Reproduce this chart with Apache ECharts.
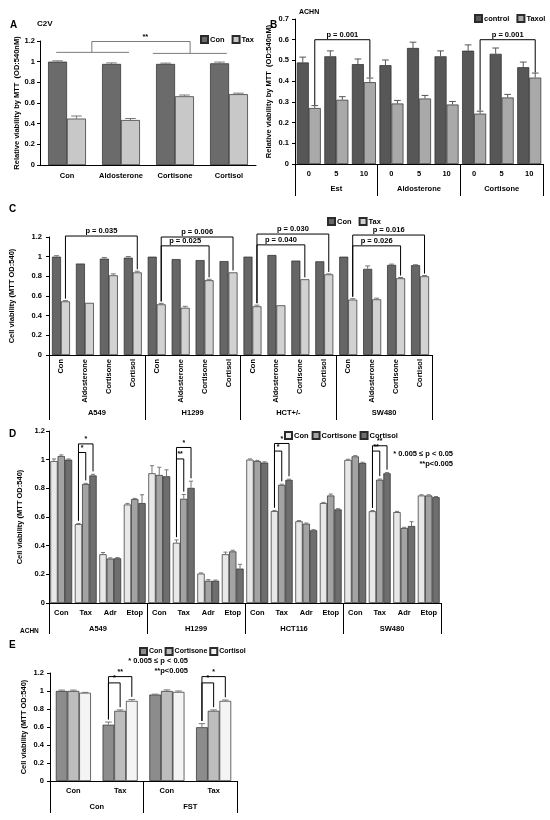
<!DOCTYPE html>
<html><head><meta charset="utf-8">
<script src="https://cdn.jsdelivr.net/npm/echarts@6/dist/echarts.min.js"></script>
<style>html,body{margin:0;padding:0;background:#fff}#c{width:550px;height:820px}</style>
</head><body><div id="c"></div>
<script>
// ---------- DATA ----------
// Panel A (C2V)
const catsA = ['Con', 'Aldosterone', 'Cortisone', 'Cortisol'];
const aCon = [1.0, 0.978, 0.978, 0.984];
const aTax = [0.449, 0.435, 0.665, 0.685];
const aConErr = [0.008, 0.01, 0.008, 0.012];
const aTaxErr = [0.025, 0.015, 0.012, 0.01];

// Panel B (ACHN)
const catsB = ['0', '5', '10', '0', '5', '10', '0', '5', '10'];
const groupsB = ['Est', 'Aldosterone', 'Cortisone'];
const bControl = [0.49, 0.52, 0.482, 0.477, 0.56, 0.52, 0.547, 0.532, 0.467];
const bTaxol = [0.27, 0.31, 0.395, 0.292, 0.316, 0.287, 0.243, 0.321, 0.417];
const bControlErr = [0.026, 0.026, 0.025, 0.025, 0.028, 0.026, 0.028, 0.028, 0.025];
const bTaxolErr = [0.012, 0.015, 0.02, 0.015, 0.015, 0.015, 0.012, 0.015, 0.022];
const sigB = [[0, 2, 0.6, 'p = 0.001'], [6, 8, 0.6, 'p = 0.001']];

// Panel C
const catsC = ['Con', 'Aldosterone', 'Cortisone', 'Cortisol', 'Con', 'Aldosterone', 'Cortisone', 'Cortisol',
               'Con', 'Aldosterone', 'Cortisone', 'Cortisol', 'Con', 'Aldosterone', 'Cortisone', 'Cortisol'];
const groupsC = ['A549', 'H1299', 'HCT+/-', 'SW480'];
const cCon = [1.0, 0.93, 0.98, 0.99, 1.0, 0.975, 0.965, 0.955, 1.0, 1.017, 0.96, 0.953, 1.0, 0.876, 0.916, 0.913];
const cTax = [0.545, 0.53, 0.81, 0.84, 0.515, 0.48, 0.76, 0.84, 0.495, 0.505, 0.77, 0.82, 0.563, 0.566, 0.78, 0.80];
const cConErr = [0.01, 0, 0.012, 0.012, 0, 0, 0, 0, 0, 0, 0, 0, 0, 0.03, 0.008, 0.005];
const cTaxErr = [0.008, 0, 0.015, 0.012, 0.01, 0.015, 0.01, 0, 0.012, 0, 0, 0.005, 0.01, 0.012, 0.008, 0.008];
const sigC = [[0, 3, 1.21, 'p = 0.035'], [4, 7, 1.2, 'p = 0.006'], [4, 6, 1.11, 'p = 0.025'],
              [8, 11, 1.23, 'p = 0.030'], [8, 10, 1.12, 'p = 0.040'], [12, 15, 1.22, 'p = 0.016'], [12, 14, 1.11, 'p = 0.026']];

// Panel D
const catsD = ['Con', 'Tax', 'Adr', 'Etop', 'Con', 'Tax', 'Adr', 'Etop', 'Con', 'Tax', 'Adr', 'Etop', 'Con', 'Tax', 'Adr', 'Etop'];
const groupsD = ['A549', 'H1299', 'HCT116', 'SW480'];
const dCon = [0.99, 0.55, 0.34, 0.687, 0.905, 0.42, 0.205, 0.34, 1.0, 0.641, 0.57, 0.697, 0.998, 0.64, 0.634, 0.75];
const dCortisone = [1.025, 0.83, 0.31, 0.725, 0.893, 0.727, 0.155, 0.36, 0.99, 0.824, 0.553, 0.75, 1.023, 0.86, 0.523, 0.75];
const dCortisol = [1.0, 0.89, 0.312, 0.697, 0.884, 0.803, 0.155, 0.24, 0.98, 0.859, 0.507, 0.653, 0.977, 0.905, 0.537, 0.738];
const dConErr = [0.015, 0.005, 0.012, 0.008, 0.053, 0.02, 0.005, 0.015, 0.005, 0.005, 0.005, 0.005, 0.005, 0.005, 0.005, 0.005];
const dCortisoneErr = [0.008, 0.005, 0.005, 0.005, 0.054, 0.03, 0.008, 0.008, 0.005, 0.005, 0.005, 0.01, 0.005, 0.005, 0.005, 0.005];
const dCortisolErr = [0.005, 0.008, 0.005, 0.058, 0.045, 0.047, 0.005, 0.03, 0.005, 0.005, 0.005, 0.005, 0.005, 0.005, 0.03, 0.005];
const sigD = [[1, 2, 1.11, '*'], [1, 1, 1.05, '*'], [5, 2, 1.085, '*'], [5, 1, 1.005, '**'],
              [9, 2, 1.113, '*'], [9, 1, 1.06, '*'], [13, 2, 1.097, '**'], [13, 1, 1.06, '**']];

// Panel E
const catsE = ['Con', 'Tax', 'Con', 'Tax'];
const groupsE = ['Con', 'FST'];
const eCon = [1.0, 0.625, 0.96, 0.597];
const eCortisone = [1.0, 0.78, 1.0, 0.78];
const eCortisol = [0.98, 0.89, 0.99, 0.89];
const eConErr = [0.01, 0.03, 0.005, 0.04];
const eCortisoneErr = [0.01, 0.01, 0.012, 0.01];
const eCortisolErr = [0.005, 0.015, 0.01, 0.01];
const sigE = [[1, 2, 1.16, '**'], [1, 1, 1.09, '*'], [3, 2, 1.16, '*'], [3, 1, 1.09, '*']];

// ---------- LAYOUT / STYLE ----------
const FONT = 'Liberation Sans';
const T = {fontFamily: FONT, fontWeight: 'bold', fontSize: 7.5, color: '#000'};
const frac = (i, n, gap) => (1 - gap) * ((i + 0.5) / n - 0.5);
const P = {
  A: {grid: {left: 40, top: 41, width: 216, height: 124}, gap: 0.30},
  B: {grid: {left: 295, top: 19, width: 248, height: 145}, gap: 0.13},
  C: {grid: {left: 49, top: 237, width: 383, height: 118}, gap: 0.25},
  D: {grid: {left: 49, top: 431, width: 392, height: 172}, gap: 0.11},
  E: {grid: {left: 50, top: 673, width: 187, height: 108}, gap: 0.25}
};

function yAx(gi, max, interval, name, nameGap, margin) {
  return {type: 'value', gridIndex: gi, min: 0, max, interval, name, nameLocation: 'middle', nameGap,
    nameTextStyle: {...T}, axisLine: {show: true, lineStyle: {color: '#000', width: 1}},
    axisTick: {show: true, length: 3, lineStyle: {color: '#000'}},
    axisLabel: {...T, margin: margin}, splitLine: {show: false}};
}
function xCat(gi, data, margin, rotate) {
  return {type: 'category', gridIndex: gi, data, position: 'bottom',
    axisLine: {show: true, lineStyle: {color: '#000', width: 1}}, axisTick: {show: false},
    axisLabel: {...T, interval: 0, margin, rotate: rotate || 0}, splitLine: {show: false}};
}
function xGroup(gi, data, tickLen, margin) {
  return {type: 'category', gridIndex: gi, data, position: 'bottom',
    axisLine: {show: false}, axisTick: {show: true, length: tickLen, lineStyle: {color: '#000', width: 1}},
    axisLabel: {...T, interval: 0, margin}, splitLine: {show: false}};
}
function bars(xi, yi, names, vals, colors, gap) {
  return names.map((nm, i) => ({type: 'bar', name: nm, xAxisIndex: xi, yAxisIndex: yi, data: vals[i],
    barCategoryGap: (gap * 100) + '%', barGap: '0%', z: 2,
    itemStyle: {color: colors[i], borderColor: '#2a2a2a', borderWidth: 0.7}}));
}
function errs(xi, yi, vals, errsArr, gap, color) {
  const n = vals.length; const data = [];
  vals.forEach((vs, s) => vs.forEach((v, c) => { if (errsArr[s][c] > 0) data.push([c, v, errsArr[s][c], s]); }));
  return {type: 'custom', xAxisIndex: xi, yAxisIndex: yi, silent: true, z: 5, clip: false, data,
    renderItem: (params, api) => {
      const c = api.value(0), v = api.value(1), e = api.value(2), s = api.value(3);
      const band = api.size([1, 0])[0];
      const p0 = api.coord([c, v]), p1 = api.coord([c, v + e]);
      const x = p0[0] + band * frac(s, n, gap);
      const cap = Math.max(1.5, band * (1 - gap) / n * 0.28);
      return {type: 'group', children: [
        {type: 'line', shape: {x1: x, y1: p0[1], x2: x, y2: p1[1]}, style: {stroke: color, lineWidth: 1}},
        {type: 'line', shape: {x1: x - cap, y1: p1[1], x2: x + cap, y2: p1[1]}, style: {stroke: color, lineWidth: 1}}
      ]};
    }};
}
function annot(xi, yi, items) {
  return {type: 'custom', xAxisIndex: xi, yAxisIndex: yi, silent: true, z: 10, clip: false,
    data: items.map(() => [0, 0]),
    renderItem: (params, api) => {
      const it = items[params.dataIndex];
      const band = api.size([1, 0])[0];
      const px = (f, v) => { const p = api.coord([0, v]); return [p[0] + f * band, p[1]]; };
      const ch = [];
      if (it.pts) ch.push({type: 'polyline', shape: {points: it.pts.map(q => px(q[0], q[1]))},
        style: {stroke: it.color || '#000', fill: 'none', lineWidth: 1}});
      if (it.text) { const p = px(it.tx, it.tv);
        ch.push({type: 'text', x: p[0], y: p[1] - (it.dy || 1), style: {text: it.text, align: 'center', verticalAlign: 'bottom',
          fontFamily: FONT, fontWeight: 'bold', fontSize: it.fs || 7.5, fill: '#000'}}); }
      return {type: 'group', children: ch};
    }};
}
// brackets between categories on the same series (B, C)
function pairBrackets(sig, vals, errA, n, s, gap, pad) {
  return sig.map(([c1, c2, top, label]) => {
    const x1 = c1 + frac(s, n, gap), x2 = c2 + frac(s, n, gap);
    return {pts: [[x1, vals[c1] + errA[c1] + pad], [x1, top], [x2, top], [x2, vals[c2] + errA[c2] + pad]],
      text: label, tx: (x1 + x2) / 2, tv: top};
  });
}
// brackets within one category (D, E)
function inBrackets(sig, vals, errA, gap, pad) {
  const n = vals.length;
  return sig.map(([c, k, top, label]) => {
    const x1 = c + frac(0, n, gap), x2 = c + frac(k, n, gap);
    return {pts: [[x1, vals[0][c] + errA[0][c] + pad], [x1, top], [x2, top], [x2, vals[k][c] + errA[k][c] + pad]],
      text: label, tx: (x1 + x2) / 2, tv: top, fs: 7};
  });
}

const annA = [
  {pts: [[-0.2, 1.09], [1.15, 1.09]], color: '#7a7a7a'},
  {pts: [[1.59, 1.08], [2.96, 1.08]], color: '#7a7a7a'},
  {pts: [[0.46, 1.09], [0.46, 1.195], [2.28, 1.195], [2.28, 1.08]], color: '#7a7a7a', text: '**', tx: 1.45, tv: 1.195, dy: 0}
];

const legendCommon = {icon: 'rect', itemWidth: 7, itemHeight: 7, itemGap: 7, padding: 0, selectedMode: false,
  textStyle: {...T, padding: [0, 0, 0, -3]}, formatter: nm => nm.slice(2)};

const option = {
  animation: false,
  backgroundColor: '#fff',
  grid: [P.A.grid, P.B.grid, P.C.grid, P.D.grid, P.E.grid],
  xAxis: [
    xCat(0, catsA, 7),
    xCat(1, catsB, 6), xGroup(1, groupsB, 32, 21),
    xCat(2, catsC, 4, 90), xGroup(2, groupsC, 65, 54),
    xCat(3, catsD, 6), xGroup(3, groupsD, 31, 22),
    xCat(4, catsE, 6), xGroup(4, groupsE, 32, 22)
  ],
  yAxis: [
    yAx(0, 1.2, 0.2, 'Relative viability by MTT  (OD:540nM)', 17, 5),
    yAx(1, 0.7, 0.1, 'Relative viability by MTT  (OD:540nM)', 22, 6),
    yAx(2, 1.2, 0.2, 'Cell viability (MTT OD:540)', 33, 7),
    yAx(3, 1.2, 0.2, 'Cell viability (MTT OD:540)', 13, 4),
    yAx(4, 1.2, 0.2, 'Cell viability (MTT OD:540)', 22, 6)
  ],
  legend: [
    {...legendCommon, data: ['A:Con', 'A:Tax'], left: 200, top: 35},
    {...legendCommon, data: ['B:control', 'B:Taxol'], left: 474, top: 14},
    {...legendCommon, data: ['C:Con', 'C:Tax'], left: 327, top: 217},
    {...legendCommon, itemGap: 3, data: ['D:Con', 'D:Cortisone', 'D:Cortisol'], left: 284, top: 431},
    {...legendCommon, itemGap: 2, textStyle: {...T, fontSize: 7, padding: [0, 0, 0, -3]},
      data: ['E:Con', 'E:Cortisone', 'E:Cortisol'], left: 139, top: 647}
  ],
  series: [
    ...bars(0, 0, ['A:Con', 'A:Tax'], [aCon, aTax], ['#6b6b6b', '#c8c8c8'], P.A.gap),
    errs(0, 0, [aCon, aTax], [aConErr, aTaxErr], P.A.gap, '#777'),
    annot(0, 0, annA),
    ...bars(1, 1, ['B:control', 'B:Taxol'], [bControl, bTaxol], ['#575757', '#a9a9a9'], P.B.gap),
    errs(1, 1, [bControl, bTaxol], [bControlErr, bTaxolErr], P.B.gap, '#555'),
    annot(1, 1, pairBrackets(sigB, bTaxol, bTaxolErr, 2, 1, P.B.gap, 0.003)),
    ...bars(3, 2, ['C:Con', 'C:Tax'], [cCon, cTax], ['#666666', '#d2d2d2'], P.C.gap),
    errs(3, 2, [cCon, cTax], [cConErr, cTaxErr], P.C.gap, '#777'),
    annot(3, 2, pairBrackets(sigC, cTax, cTaxErr, 2, 1, P.C.gap, 0.02)),
    ...bars(5, 3, ['D:Con', 'D:Cortisone', 'D:Cortisol'], [dCon, dCortisone, dCortisol], ['#e8e8e8', '#a3a3a3', '#6e6e6e'], P.D.gap),
    errs(5, 3, [dCon, dCortisone, dCortisol], [dConErr, dCortisoneErr, dCortisolErr], P.D.gap, '#777'),
    annot(5, 3, inBrackets(sigD, [dCon, dCortisone, dCortisol], [dConErr, dCortisoneErr, dCortisolErr], P.D.gap, 0.02)),
    ...bars(7, 4, ['E:Con', 'E:Cortisone', 'E:Cortisol'], [eCon, eCortisone, eCortisol], ['#8c8c8c', '#bdbdbd', '#f4f4f4'], P.E.gap),
    errs(7, 4, [eCon, eCortisone, eCortisol], [eConErr, eCortisoneErr, eCortisolErr], P.E.gap, '#777'),
    annot(7, 4, inBrackets(sigE, [eCon, eCortisone, eCortisol], [eConErr, eCortisoneErr, eCortisolErr], P.E.gap, 0.03))
  ],
  graphic: [
    ['A', 10, 25, 10, 'left'], ['C2V', 37, 24, 8, 'left'], ['B', 270, 25, 10, 'left'], ['ACHN', 299, 12, 7, 'left'],
    ['C', 9, 209, 10, 'left'], ['D', 9, 434, 10, 'left'], ['ACHN', 20, 631, 6.5, 'left'], ['E', 9, 645, 10, 'left'],
    ['* 0.005 \u2264 p < 0.05', 453, 454, 7.5, 'right'], ['**p<0.005', 453, 464, 7.5, 'right'],
    ['* 0.005 \u2264 p < 0.05', 188, 661, 7.5, 'right'], ['**p<0.005', 188, 671, 7.5, 'right']
  ].map(([t, x, y, fs, al]) => ({type: 'text', x, y, silent: true,
    style: {text: t, fontFamily: FONT, fontWeight: 'bold', fontSize: fs, fill: '#000', align: al, verticalAlign: 'middle'}}))
};

const chart = echarts.init(document.getElementById('c'), null, {renderer: 'canvas'});
chart.setOption(option);
</script>
</body></html>
